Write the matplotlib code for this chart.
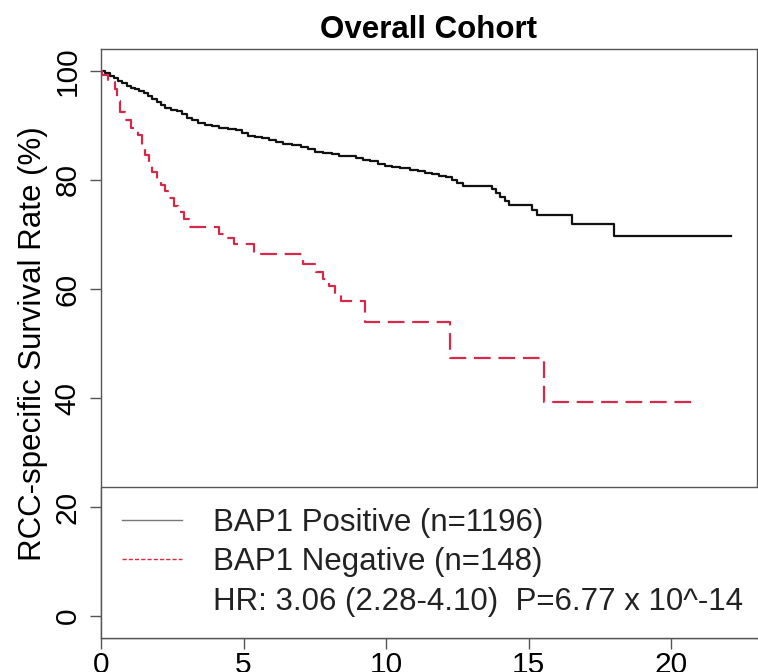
""" Kaplan-Meier style survival curves, overall cohort """
import matplotlib
matplotlib.use("Agg")
import matplotlib.pyplot as plt
from matplotlib.lines import Line2D

# BAP1 positive: step times (years) and survival (%)
pos_time = [0, 0.15, 0.3, 0.45, 0.6, 0.75, 0.9, 1.05, 1.2, 1.35, 1.5, 1.65,
            1.8, 1.95, 2.1, 2.25, 2.45, 2.65, 2.85, 3.0, 3.2, 3.4, 3.65, 3.9,
            4.15, 4.45, 4.75, 4.95, 5.15, 5.4, 5.65, 5.9, 6.15, 6.4, 6.7, 7.0,
            7.25, 7.5, 7.8, 8.1, 8.35, 8.95, 9.2, 9.45, 9.7, 9.95, 10.2, 10.5,
            10.85, 11.1, 11.35, 11.6, 11.85, 12.1, 12.3, 12.5, 12.7, 13.7,
            13.85, 14.0, 14.15, 14.3, 15.1, 15.3, 16.5, 18.0, 22.1]
pos_surv = [100, 99.6, 99.1, 98.6, 98.2, 97.8, 97.3, 96.9, 96.6, 96.3, 96.0,
            95.4, 94.8, 94.3, 93.8, 93.2, 92.9, 92.6, 92.0, 91.4, 90.9, 90.4,
            90.1, 89.8, 89.5, 89.3, 89.1, 88.6, 88.0, 87.8, 87.6, 87.4, 87.0,
            86.6, 86.4, 86.0, 85.6, 85.1, 84.9, 84.7, 84.3, 84.0, 83.7, 83.4,
            83.0, 82.6, 82.3, 82.1, 81.9, 81.6, 81.3, 81.0, 80.8, 80.5, 79.9,
            79.4, 78.9, 78.3, 77.6, 76.9, 76.1, 75.4, 74.5, 73.6, 72.0, 69.8,
            69.8]

# BAP1 negative
neg_time = [0, 0.05, 0.25, 0.5, 0.57, 0.65, 0.85, 1.05, 1.3, 1.45, 1.55, 1.68,
            1.8, 1.95, 2.1, 2.25, 2.4, 2.55, 2.7, 2.9, 3.1, 4.15, 4.4, 4.65,
            5.35, 7.1, 7.55, 7.8, 8.0, 8.2, 8.4, 9.25, 12.25, 15.55, 20.9]
neg_surv = [100, 99.3, 97.9, 96.6, 94.5, 92.5, 91.0, 89.6, 88.2, 86.3, 84.6,
            82.6, 81.4, 80.0, 79.0, 78.0, 76.6, 75.2, 74.2, 72.9, 71.4, 70.1,
            69.4, 68.3, 66.4, 64.6, 63.2, 61.9, 60.5, 59.1, 57.8, 54.0, 47.3,
            39.2, 39.2]

x_ticks = [0, 5, 10, 15, 20]
y_ticks = [0, 20, 40, 60, 80, 100]
labels = ["BAP1 Positive (n=1196)", "BAP1 Negative (n=148)",
          "HR: 3.06 (2.28-4.10)  P=6.77 x 10^-14"]

red = "#d42a4a"
axis_col = "#555555"

plt.rcParams["font.family"] = ["Liberation Sans", "DejaVu Sans"]

fig = plt.figure(figsize=(7.58, 6.72), dpi=100)
ax = fig.add_axes([0.1332, 0.0506, 0.8654, 0.8765])

ax.step(pos_time, pos_surv, where="post", color="#111111", lw=1.6)
ax.step(neg_time, neg_surv, where="post", color=red, lw=1.6,
        dashes=(7.5, 3.5))

ax.set_xlim(0, 23)
ax.set_ylim(-4, 104)
ax.set_xticks(x_ticks)
ax.set_yticks(y_ticks)
ax.tick_params(axis="both", direction="out", length=8, width=1,
               color=axis_col, labelsize=21.5)
ax.tick_params(axis="x", pad=1.5)
ax.tick_params(axis="y", pad=6)
for lab in ax.get_yticklabels():
    lab.set_rotation(90)
    lab.set_va("center")
for sp in ax.spines.values():
    sp.set_color(axis_col)
    sp.set_linewidth(1)

ax.set_ylabel("RCC-specific Survival Rate (%)", fontsize=22.5, labelpad=4)
ax.set_title("Overall Cohort", fontsize=22.5, fontweight="bold", pad=8)

handles = [Line2D([], [], color="#777777", lw=1),
           Line2D([], [], color=red, lw=1, dashes=(3, 1.5)),
           Line2D([], [], linestyle="none")]
leg = ax.legend(handles, labels, loc="lower left", bbox_to_anchor=(0, 0, 1.05, 1),
                mode="expand", borderaxespad=0, fontsize=22.5, handlelength=1.9,
                handletextpad=1.0, labelspacing=0.3, borderpad=0.68,
                fancybox=False, framealpha=1, edgecolor=axis_col,
                labelcolor="#222222")
leg.get_frame().set_linewidth(1)

fig.savefig("out.png", dpi=100)
